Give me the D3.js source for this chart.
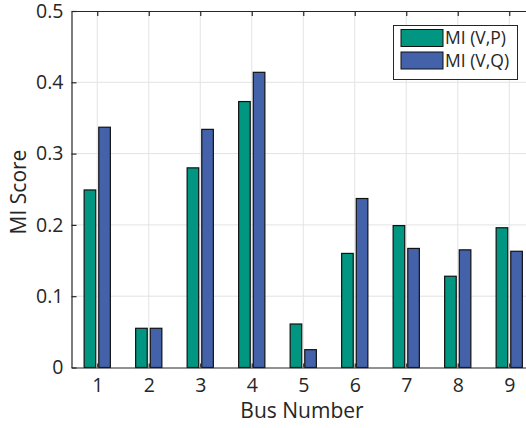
<!DOCTYPE html>
<html>
<head>
<meta charset="utf-8">
<script src="https://cdn.jsdelivr.net/npm/d3@7"></script>
<style>
  body { margin: 0; background: #fff; }
  text { font-family: "Open Sans", sans-serif; fill: #262626; }
</style>
</head>
<body>
<div id="chart"></div>
<script>
// bus numbers and mutual information scores
var buses = [1, 2, 3, 4, 5, 6, 7, 8, 9];
var miVP = [0.249, 0.055, 0.280, 0.373, 0.061, 0.160, 0.199, 0.128, 0.196];
var miVQ = [0.337, 0.055, 0.334, 0.414, 0.025, 0.237, 0.167, 0.165, 0.163];
var yTicks = [0, 0.1, 0.2, 0.3, 0.4, 0.5];
var seriesNames = ["MI (V,P)", "MI (V,Q)"];
var colors = ["#009681", "#4362aa"];

var W = 526, H = 428;
var pLeft = 71.5, pTop = 11, pBottom = 367.5, pRight = 535;

var svg = d3.select("#chart").append("svg")
  .attr("width", W).attr("height", H);

var x = d3.scaleLinear().domain([0.5, 9.5]).range([pLeft, pRight]);
var y = d3.scaleLinear().domain([0, 0.5]).range([pBottom, pTop]);

// grid
svg.append("g").selectAll("line").data(buses).enter().append("line")
  .attr("x1", d => x(d)).attr("x2", d => x(d))
  .attr("y1", pTop).attr("y2", pBottom)
  .attr("stroke", "#e3e3e3").attr("stroke-width", 1);
svg.append("g").selectAll("line").data(yTicks.slice(1, -1)).enter().append("line")
  .attr("x1", pLeft).attr("x2", pRight)
  .attr("y1", d => y(d)).attr("y2", d => y(d))
  .attr("stroke", "#e3e3e3").attr("stroke-width", 1);

// bars
var bw = 0.225, off = 0.142;
var series = [miVP, miVQ];
series.forEach(function(vals, s) {
  svg.append("g").selectAll("rect").data(vals).enter().append("rect")
    .attr("x", (d, i) => x(buses[i] + (s === 0 ? -off : off) - bw / 2))
    .attr("width", x(bw) - x(0))
    .attr("y", d => y(d))
    .attr("height", d => y(0) - y(d))
    .attr("fill", colors[s])
    .attr("stroke", "#111")
    .attr("stroke-width", 1.2);
});

// axes
var axisColor = "#262626";
var gx = svg.append("g").attr("transform", "translate(0," + pBottom + ")")
  .call(d3.axisBottom(x).tickValues(buses).tickSizeInner(-4).tickSizeOuter(0).tickPadding(11));
var gy = svg.append("g").attr("transform", "translate(" + pLeft + ",0)")
  .call(d3.axisLeft(y).tickValues(yTicks).tickFormat(d3.format("")).tickSizeInner(-5).tickSizeOuter(0).tickPadding(8));
var gt = svg.append("g").attr("transform", "translate(0," + pTop + ")")
  .call(d3.axisTop(x).tickValues(buses).tickSizeInner(-5).tickSizeOuter(0).tickFormat(""));
[gx, gy, gt].forEach(function(g) {
  g.select(".domain").attr("stroke", axisColor).attr("stroke-width", 1.2);
  g.selectAll(".tick line").attr("stroke", axisColor).attr("stroke-width", 1.2);
  g.selectAll(".tick text").style("font-size", "19.5px").attr("fill", axisColor)
    .style("font-family", "'Open Sans', sans-serif");
});

// axis labels
svg.append("text").attr("x", 302).attr("y", 418).attr("text-anchor", "middle")
  .style("font-size", "21px").text("Bus Number");
svg.append("text").attr("transform", "translate(26,192) rotate(-90)")
  .attr("text-anchor", "middle").style("font-size", "21px").text("MI Score");

// legend
var lg = svg.append("g");
lg.append("rect").attr("x", 393.5).attr("y", 25.5).attr("width", 124).attr("height", 54)
  .attr("fill", "#fff").attr("stroke", "#262626").attr("stroke-width", 1);
seriesNames.forEach(function(name, i) {
  lg.append("rect").attr("x", 401).attr("y", 29.5 + i * 22.5).attr("width", 42).attr("height", 17)
    .attr("fill", colors[i]).attr("stroke", "#111").attr("stroke-width", 1);
  lg.append("text").attr("x", 445).attr("y", 38 + i * 22.5).attr("dy", "0.35em")
    .style("font-size", "17.5px").text(name);
});
</script>
</body>
</html>
